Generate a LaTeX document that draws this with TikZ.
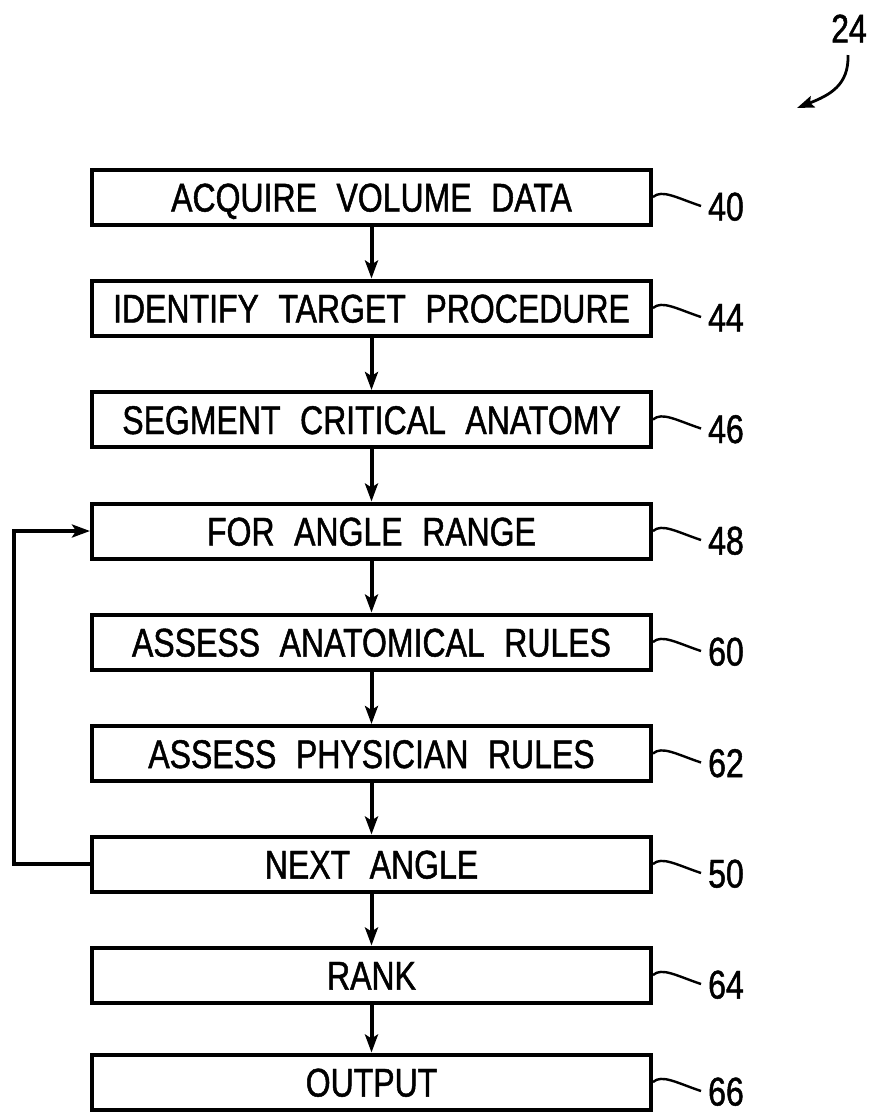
\documentclass[tikz,border=0pt]{standalone}
\usepackage{fontspec}
\setmainfont{Liberation Sans}[FakeStretch=0.8, WordSpace=2.2, FakeBold=1.2]
\usetikzlibrary{arrows.meta}
\tikzset{
  stepbox/.style={draw, line width=4pt, minimum width=559pt, minimum height=55pt,
    inner sep=0pt, text height=29pt, text depth=0pt, font=\fontsize{40}{40}\selectfont},
  flow/.style={line width=4pt, -{Stealth[length=18pt,width=13pt,inset=4pt]}},
  reflabel/.style={anchor=west, inner sep=0pt, text height=29pt, text depth=0pt,
    font=\fontsize{40}{40}\selectfont},
  tilde/.style={line width=2.4pt}
}
\begin{document}
\begin{tikzpicture}[x=1pt,y=-1pt]
\useasboundingbox (0,0) rectangle (875,1112);

% process steps
\node[stepbox] (s40) at (371.5,197)  {ACQUIRE VOLUME DATA};
\node[stepbox] (s44) at (371.5,308)  {IDENTIFY TARGET PROCEDURE};
\node[stepbox] (s46) at (371.5,419.5){SEGMENT CRITICAL ANATOMY};
\node[stepbox] (s48) at (371.5,531)  {FOR ANGLE RANGE};
\node[stepbox] (s60) at (371.5,642)  {ASSESS ANATOMICAL RULES};
\node[stepbox] (s62) at (371.5,753.5){ASSESS PHYSICIAN RULES};
\node[stepbox] (s50) at (371.5,864)  {NEXT ANGLE};
\node[stepbox] (s64) at (371.5,975)  {RANK};
\node[stepbox] (s66) at (371.5,1082) {OUTPUT};

% flow between steps
\foreach \a/\b in {s40/s44,s44/s46,s46/s48,s48/s60,s60/s62,s62/s50,s50/s64,s64/s66}
  \draw[flow] (\a.south) -- (\b.north);

% loop back to the angle range
\coordinate (lb) at (14,864);
\coordinate (lt) at (14,531);
\draw[flow] (s50.west) -- (lb) -- (lt) -- (s48.west);

% reference numerals with leader curves
\foreach \s/\n in {s40/40,s44/44,s46/46,s48/48,s60/60,s62/62,s50/50,s64/64,s66/66}{
  \draw[tilde] (\s.east) .. controls +(9,-8) and +(-24,-8) .. +(48,9) coordinate (t\n);
  \node[reflabel] (r\n) at ([xshift=7pt]t\n) {\n};
}

% figure numeral
\node[reflabel, anchor=center] (fig) at (849,28) {24};
\coordinate (figtip) at (797,108);
\draw[line width=2.8pt, -{Stealth[length=17pt,width=12pt,inset=3pt]}]
  (848,55) .. controls (849,85) and (830,95) .. (figtip);
\end{tikzpicture}
\end{document}
